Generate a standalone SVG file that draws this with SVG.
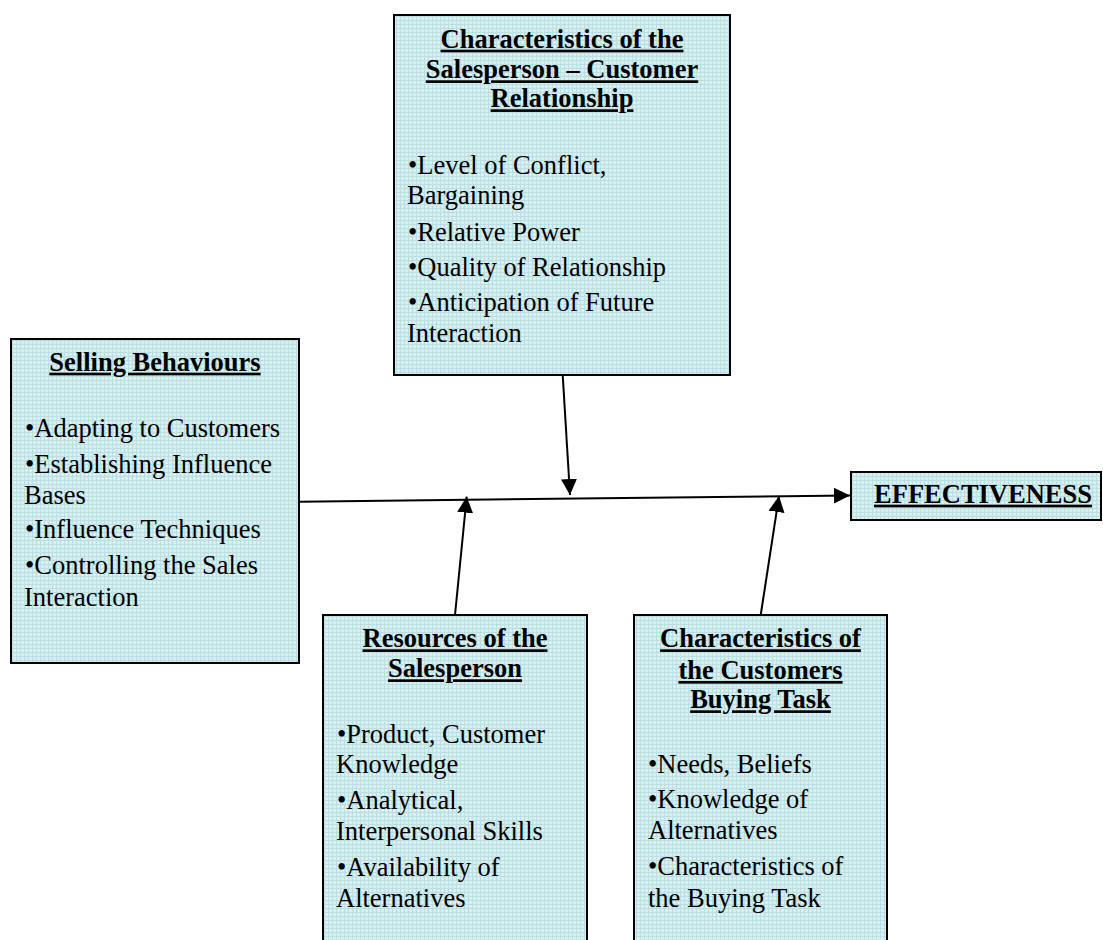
<svg xmlns="http://www.w3.org/2000/svg" width="1103" height="940" viewBox="0 0 1103 940">
  <style>
    .box { fill: url(#grid); stroke: #000; stroke-width: 2; }
    .title { font-family: "Liberation Serif", "Times New Roman", serif; font-size: 26.5px; font-weight: bold; text-decoration: underline; text-anchor: middle; fill: #000; }
    .body { font-family: "Liberation Serif", "Times New Roman", serif; font-size: 26.5px; fill: #000; }
    .link { stroke: #000; stroke-width: 2; fill: none; marker-end: url(#arrow); }
  </style>
  <defs>
    <!-- fine light-cyan grid fill used by every box -->
    <pattern id="grid" width="4" height="4" patternUnits="userSpaceOnUse">
      <rect width="4" height="4" fill="#d4edef"/>
      <rect width="4" height="1" fill="#bcdfe3"/>
      <rect width="1" height="4" fill="#bcdfe3"/>
      <rect x="2" y="2" width="1" height="1" fill="#eef8f9"/>
    </pattern>
    <marker id="arrow" markerUnits="userSpaceOnUse" markerWidth="16" markerHeight="16" refX="16" refY="8" orient="auto">
      <path d="M0,0 L16,8 L0,16 z" fill="#000"/>
    </marker>
  </defs>

  <!-- connectors -->
  <g id="connectors">
    <line class="link" x1="299" y1="501.7" x2="850" y2="495.4"/>
    <line class="link" x1="562.7" y1="375" x2="570" y2="495"/>
    <line class="link" x1="455" y1="615" x2="466.7" y2="496.7"/>
    <line class="link" x1="760.7" y1="615" x2="779" y2="496"/>
  </g>

  <!-- top: salesperson-customer relationship -->
  <g id="relationship">
    <rect class="box" x="394" y="15" width="336" height="360"/>
    <text class="title" x="562" y="47.7">Characteristics of the</text>
    <text class="title" x="562" y="78.3">Salesperson – Customer</text>
    <text class="title" x="562" y="107.3">Relationship</text>
    <text class="body" x="408" y="174">•Level of Conflict,</text>
    <text class="body" x="407" y="204">Bargaining</text>
    <text class="body" x="408" y="240.7">•Relative Power</text>
    <text class="body" x="408" y="275.7">•Quality of Relationship</text>
    <text class="body" x="408" y="310.7">•Anticipation of Future</text>
    <text class="body" x="407" y="342.3">Interaction</text>
  </g>

  <!-- left: selling behaviours -->
  <g id="selling-behaviours">
    <rect class="box" x="11" y="339" width="288" height="324"/>
    <text class="title" x="155" y="370.7">Selling Behaviours</text>
    <text class="body" x="25" y="437.3">•Adapting to Customers</text>
    <text class="body" x="25" y="472.7">•Establishing Influence</text>
    <text class="body" x="24" y="504">Bases</text>
    <text class="body" x="25" y="538.3">•Influence Techniques</text>
    <text class="body" x="25" y="574">•Controlling the Sales</text>
    <text class="body" x="24" y="605.7">Interaction</text>
  </g>

  <!-- bottom centre: resources of the salesperson -->
  <g id="resources">
    <rect class="box" x="323" y="615" width="264" height="335"/>
    <text class="title" x="455" y="647.3">Resources of the</text>
    <text class="title" x="455" y="677.3">Salesperson</text>
    <text class="body" x="337" y="742.7">•Product, Customer</text>
    <text class="body" x="336" y="772.7">Knowledge</text>
    <text class="body" x="337" y="809.3">•Analytical,</text>
    <text class="body" x="336" y="840">Interpersonal Skills</text>
    <text class="body" x="337" y="876">•Availability of</text>
    <text class="body" x="336" y="906.7">Alternatives</text>
  </g>

  <!-- bottom right: customer's buying task -->
  <g id="buying-task">
    <rect class="box" x="634" y="615" width="253" height="335"/>
    <text class="title" x="760.5" y="647.3">Characteristics of</text>
    <text class="title" x="760.5" y="679">the Customers</text>
    <text class="title" x="760.5" y="708.3">Buying Task</text>
    <text class="body" x="648" y="773.3">•Needs, Beliefs</text>
    <text class="body" x="648" y="808.3">•Knowledge of</text>
    <text class="body" x="648" y="839.3">Alternatives</text>
    <text class="body" x="648" y="875">•Characteristics of</text>
    <text class="body" x="648" y="906.7">the Buying Task</text>
  </g>

  <!-- outcome -->
  <g id="effectiveness">
    <rect class="box" x="851" y="472" width="250" height="48"/>
    <text class="title" x="983" y="502.7">EFFECTIVENESS</text>
  </g>
</svg>
